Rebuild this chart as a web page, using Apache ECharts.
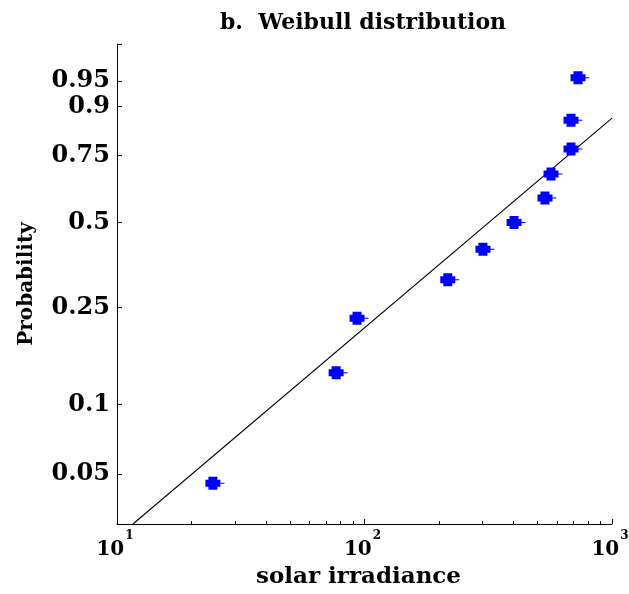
<!DOCTYPE html>
<html><head><meta charset="utf-8">
<script src="https://cdn.jsdelivr.net/npm/echarts@6/dist/echarts.min.js"></script>
<style>html,body{margin:0;padding:0;background:#fff}#c{width:629px;height:594px}</style>
</head><body><div id="c"></div>
<script>
// Observed data (solar irradiance vs. plotting probability)
const irradiance = [24.4, 76.8, 93.3, 217, 301, 402, 536, 567, 683, 683, 729];
const probability = [0.0455, 0.136, 0.227, 0.318, 0.409, 0.5, 0.591, 0.682, 0.773, 0.864, 0.955];
// Fitted Weibull reference line (end points)
const fitIrradiance = [11.6, 1000];
const fitProbability = [0.0301, 0.870];
// Axis ticks
const yTickLabels = ['0.05', '0.1', '0.25', '0.5', '0.75', '0.9', '0.95'];
const xMajorTicks = [10, 100, 1000];
const xMinorTicks = [20, 30, 40, 50, 60, 70, 80, 90, 200, 300, 400, 500, 600, 700, 800, 900];
const yRangeP = [0.0301, 0.9877];

const wb = p => Math.log(-Math.log(1 - p));
const FONT = 'DejaVu Serif';
const yTickW = yTickLabels.map(s => wb(parseFloat(s)));

const chart = echarts.init(document.getElementById('c'), null, {renderer: 'canvas'});
const xBase = {
  type: 'log', logBase: 10, min: 10, max: 1000, gridIndex: 0, position: 'bottom',
  splitLine: {show: false}, minorTick: {show: false}, minorSplitLine: {show: false}
};
chart.setOption({
  animation: false,
  backgroundColor: '#fff',
  title: {
    text: 'b.  Weibull distribution', left: 358, top: 7, textAlign: 'center',
    textStyle: {fontFamily: FONT, fontWeight: 'bold', fontSize: 22, color: '#000'}
  },
  grid: {left: 117, right: 17, top: 44, bottom: 70, containLabel: false, outerBoundsMode: 'none'},
  xAxis: [
    Object.assign({}, xBase, {
      axisLine: {show: true, onZero: false, lineStyle: {color: '#000', width: 1}},
      axisTick: {show: true, inside: true, length: 3, customValues: xMinorTicks, lineStyle: {color: '#000', width: 1}},
      axisLabel: {
        show: true, customValues: xMajorTicks, margin: 6, padding: [0, 4, 0, 0],
        formatter: v => '{b|10}{s|' + Math.round(Math.log10(v)) + '}',
        rich: {
          b: {fontFamily: FONT, fontWeight: 'bold', fontSize: 20, color: '#000', lineHeight: 30, verticalAlign: 'bottom'},
          s: {fontFamily: FONT, fontWeight: 'bold', fontSize: 12, color: '#000', verticalAlign: 'top', lineHeight: 30, padding: [0, 0, 0, 1]}
        }
      },
      name: 'solar irradiance', nameLocation: 'middle', nameGap: 42,
      nameTextStyle: {fontFamily: FONT, fontWeight: 'bold', fontSize: 23, color: '#000', padding: [0, 12, 0, 0]}
    }),
    Object.assign({}, xBase, {
      axisLine: {show: false, onZero: false},
      axisTick: {show: true, inside: true, length: 5, customValues: xMajorTicks, lineStyle: {color: '#000', width: 1}},
      axisLabel: {show: false}
    })
  ],
  yAxis: {
    type: 'value', min: wb(yRangeP[0]), max: wb(yRangeP[1]),
    splitLine: {show: false},
    axisLine: {show: true, onZero: false, lineStyle: {color: '#000', width: 1}},
    axisTick: {show: true, inside: true, length: 5, customValues: yTickW.concat([wb(yRangeP[1])]), lineStyle: {color: '#000', width: 1}},
    axisLabel: {
      customValues: yTickW, margin: 7,
      formatter: v => {
        let best = 0;
        yTickW.forEach((t, i) => { if (Math.abs(t - v) < Math.abs(yTickW[best] - v)) best = i; });
        return yTickLabels[best];
      },
      fontFamily: FONT, fontWeight: 'bold', fontSize: 24, color: '#000'
    },
    name: 'Probability', nameLocation: 'middle', nameGap: 80,
    nameTextStyle: {fontFamily: FONT, fontWeight: 'bold', fontSize: 20, color: '#000'}
  },
  series: [
    {
      type: 'line', xAxisIndex: 0, yAxisIndex: 0,
      data: fitIrradiance.map((x, i) => [x, wb(fitProbability[i])]),
      showSymbol: false, symbol: 'none',
      lineStyle: {color: '#000', width: 1.1}, z: 2, silent: true
    },
    {
      type: 'scatter', xAxisIndex: 0, yAxisIndex: 0,
      data: irradiance.map((x, i) => [x, wb(probability[i])]),
      symbol: 'path://M3,0H12V3H15V10H12V13H3V10H0V3H3ZM15,6H19V7H15Z',
      symbolSize: [19, 13], symbolOffset: [2, 0],
      itemStyle: {color: '#0000ff', opacity: 1}, z: 3, silent: true
    }
  ]
});
</script>
</body></html>
